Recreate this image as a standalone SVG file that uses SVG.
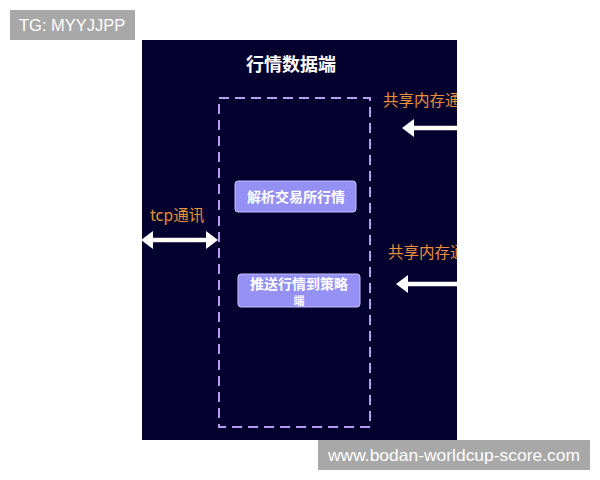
<svg xmlns="http://www.w3.org/2000/svg" width="600" height="480" viewBox="0 0 600 480">
<defs>
<style>
.wm{fill:#a8a8a8}
.wmt{font-family:"Liberation Sans",Arial,sans-serif;font-size:16.5px;fill:#ffffff}
.cn{font-family:"Noto Sans CJK SC","Noto Sans",sans-serif}
.lbl{font-size:15.5px;fill:#e8913a}
.node rect{fill:#9490f4;stroke:#c8c0ff;stroke-width:1}
.node text{font-size:14px;font-weight:bold;fill:#ffffff;text-anchor:middle}
.arr{stroke:#ffffff;stroke-width:4.5;fill:none}
.ah{fill:#ffffff}
</style>
<clipPath id="panel"><rect x="142" y="40" width="315" height="400"/></clipPath>
</defs>
<rect width="600" height="480" fill="#ffffff"/>
<g id="watermark-top">
<rect class="wm" x="10" y="10" width="125" height="30"/>
<text class="wmt" x="19" y="31">TG: MYYJJPP</text>
</g>
<g clip-path="url(#panel)">
<rect x="142" y="40" width="315" height="400" fill="#05012e"/>
<g id="title"><text class="cn" x="291" y="71" font-size="18" font-weight="bold" fill="#ffffff" text-anchor="middle">行情数据端</text></g>
<g id="container"><rect x="219" y="98" width="151" height="329" fill="none" stroke="#b89cf0" stroke-width="2" stroke-dasharray="10,6"/></g>
<g id="node-parse" class="node">
<rect x="235" y="181" width="121" height="31" rx="3"/>
<text class="cn" x="296" y="202">解析交易所行情</text>
</g>
<g id="node-push" class="node">
<rect x="238" y="274" width="122" height="33" rx="3"/>
<text class="cn" x="299" y="289">推送行情到策略</text>
<text class="cn" x="299" y="305" style="font-size:11px">端</text>
</g>
<g id="connectors">
<text class="cn lbl" x="383" y="106">共享内存通讯</text>
<line class="arr" x1="412" y1="128" x2="470" y2="128"/>
<polygon class="ah" points="402,128 414,119 414,137"/>
<text class="cn lbl" x="388" y="258">共享内存通讯</text>
<line class="arr" x1="406" y1="284" x2="470" y2="284"/>
<polygon class="ah" points="396,284 408,275 408,293"/>
<text class="cn lbl" x="150" y="221">tcp通讯</text>
<line class="arr" x1="150" y1="240" x2="208" y2="240"/>
<polygon class="ah" points="141,240 153,231 153,249"/>
<polygon class="ah" points="218,240 206,231 206,249"/>
</g>
</g>
<g id="watermark-bottom">
<rect class="wm" x="318" y="440" width="272" height="30"/>
<text class="wmt" x="328" y="461" textLength="252" lengthAdjust="spacingAndGlyphs">www.bodan-worldcup-score.com</text>
</g>
</svg>
